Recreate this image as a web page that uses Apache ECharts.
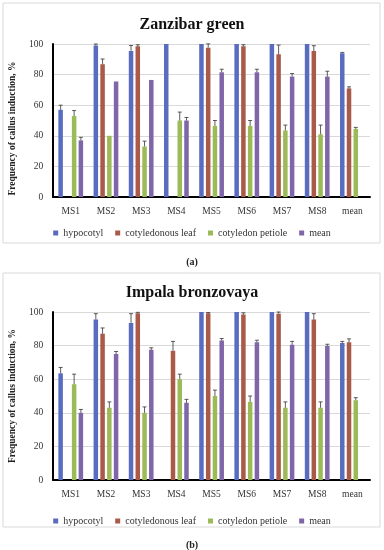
<!DOCTYPE html>
<html><head><meta charset="utf-8">
<script src="https://cdn.jsdelivr.net/npm/echarts@6/dist/echarts.min.js"></script>
<style>html,body{margin:0;padding:0;background:#fff}#c{width:384px;height:550px}</style>
</head><body><div id="c"></div>
<script>
const categories = ['MS1','MS2','MS3','MS4','MS5','MS6','MS7','MS8','mean'];
const seriesNames = ['hypocotyl','cotyledonous leaf','cotyledon petiole','mean'];
const yTicks = [0,20,40,60,80,100];

// Chart (a) Zanzibar green
const aHypocotyl = [57, 99, 95.5, 100, 100, 100, 100, 100, 94];
const aHypocotylErr = [3, 1, 3.5, 0, 0, 0, 0, 0, 0.5];
const aLeaf = [0, 86.7, 98.5, 0, 97.6, 98.5, 93.3, 95.4, 71];
const aLeafErr = [0, 3.5, 1, 0, 2.5, 1, 6, 3.5, 1];
const aPetiole = [53, 40, 33, 50, 46.5, 46.5, 43.5, 41, 44.5];
const aPetioleErr = [3.5, 0, 3.5, 5.5, 3.5, 3.5, 3.5, 6, 1];
const aMean = [37, 75.5, 76.5, 50, 81.5, 81.5, 78.7, 78.7, null];
const aMeanErr = [2, 0, 0, 2, 2, 2, 2, 3.5, 0];

// Chart (b) Impala bronzovaya
const bHypocotyl = [63.5, 95.5, 93.5, 0, 100, 100, 100, 100, 81.5];
const bHypocotylErr = [3.5, 3.5, 5.5, 0, 0, 0, 0, 0, 1];
const bLeaf = [0, 87, 99.3, 77, 99.2, 98.5, 99, 95.5, 82];
const bLeafErr = [0, 3.5, 0.5, 5.5, 0.5, 1, 1, 3.5, 2];
const bPetiole = [57, 43, 40, 60, 50, 46.5, 43, 43, 47.5];
const bPetioleErr = [6, 3.5, 3.5, 3, 3.5, 3.5, 3.5, 3.5, 1.5];
const bMean = [40, 75, 77.5, 46, 83, 82, 80.5, 79.8, null];
const bMeanErr = [2, 1.5, 1.2, 2, 1.2, 1.2, 2, 1, 0];

const colors = ['#5A6CBF', '#A95A48', '#9BBB59', '#7E66A8'];
const serif = 'Liberation Serif';
const BAR_W = 4.5, STEP = 6.75;

function bars(gi, vals) {
  return vals.map((v, i) => ({
    name: seriesNames[i], type: 'bar', xAxisIndex: gi, yAxisIndex: gi,
    data: v.map(x => (x === null || x === 0) ? '-' : x),
    barWidth: BAR_W, barGap: '50%', itemStyle: {color: colors[i]}, z: 2
  }));
}
function errs(gi, vals, ers) {
  return vals.map((v, si) => ({
    name: 'err' + si, type: 'custom', xAxisIndex: gi, yAxisIndex: gi, z: 5,
    data: v.map((x, i) => [i, x, ers[si][i]]).filter(d => d[1] !== null && d[1] !== 0 && d[2] > 0),
    renderItem: function (params, api) {
      const ci = api.value(0), val = api.value(1), e = api.value(2);
      const base = api.coord([ci, val]);
      const top = api.coord([ci, val + e]);
      const x = base[0] + (si - 1.5) * STEP;
      const hw = 2;
      const st = {stroke: '#333', lineWidth: 0.8};
      return {type: 'group', children: [
        {type: 'line', shape: {x1: x, y1: base[1], x2: x, y2: top[1]}, style: st},
        {type: 'line', shape: {x1: x - hw, y1: top[1], x2: x + hw, y2: top[1]}, style: st}
      ]};
    }
  }));
}

const axisLabel = {fontFamily: serif, fontSize: 9.5, color: '#333'};
function xAx(gi) {
  return {type: 'category', gridIndex: gi, data: categories,
    axisLine: {lineStyle: {color: '#000', width: 2}}, axisTick: {show: false},
    axisLabel: Object.assign({margin: 9}, axisLabel)};
}
function yAx(gi, pad) {
  return {type: 'value', gridIndex: gi, min: 0, max: 100, interval: 20,
    axisLine: {show: true, lineStyle: {color: '#000', width: 2}}, axisTick: {show: false},
    splitLine: {lineStyle: {color: '#D9D9D9', width: 1}},
    axisLabel: Object.assign({margin: 10, formatter: v => yTicks.indexOf(v) >= 0 ? String(v) : ''}, axisLabel),
    name: 'Frequency of callus induction, %', nameLocation: 'middle', nameGap: 26,
    nameTextStyle: {fontFamily: serif, fontSize: 9.5, fontWeight: 'bold', color: '#222', padding: pad}};
}
function legend(top) {
  return {top: top, left: 'center', data: seriesNames, icon: 'rect', itemWidth: 5, itemHeight: 5,
    itemGap: 12, textStyle: {fontFamily: serif, fontSize: 10, color: '#333'}};
}

const chart = echarts.init(document.getElementById('c'));
chart.setOption({
  animation: false,
  backgroundColor: '#fff',
  title: [
    {text: 'Zanzibar green', left: 'center', top: 12, textStyle: {fontFamily: serif, fontSize: 16, fontWeight: 'bold', color: '#111'}},
    {text: 'Impala bronzovaya', left: 'center', top: 280, textStyle: {fontFamily: serif, fontSize: 16, fontWeight: 'bold', color: '#111'}},
    {text: '(a)', left: 'center', top: 252, textStyle: {fontFamily: serif, fontSize: 10, fontWeight: 'bold', color: '#222'}},
    {text: '(b)', left: 'center', top: 535, textStyle: {fontFamily: serif, fontSize: 10, fontWeight: 'bold', color: '#222'}}
  ],
  graphic: [
    {type: 'rect', shape: {x: 3, y: 3, width: 377, height: 240}, style: {fill: 'none', stroke: '#D9D9D9', lineWidth: 1}, z: -1},
    {type: 'rect', shape: {x: 3, y: 273, width: 377, height: 254}, style: {fill: 'none', stroke: '#D9D9D9', lineWidth: 1}, z: -1}
  ],
  legend: [legend(223), legend(511)],
  grid: [
    {left: 52, right: 14, top: 44, height: 153},
    {left: 52, right: 14, top: 312, height: 168}
  ],
  xAxis: [xAx(0), xAx(1)],
  yAxis: [yAx(0, [0, 16, 0, 0]), yAx(1, [0, 0, 0, 0])],
  series: [].concat(
    bars(0, [aHypocotyl, aLeaf, aPetiole, aMean]),
    bars(1, [bHypocotyl, bLeaf, bPetiole, bMean]),
    errs(0, [aHypocotyl, aLeaf, aPetiole, aMean], [aHypocotylErr, aLeafErr, aPetioleErr, aMeanErr]),
    errs(1, [bHypocotyl, bLeaf, bPetiole, bMean], [bHypocotylErr, bLeafErr, bPetioleErr, bMeanErr])
  )
});
</script></body></html>
